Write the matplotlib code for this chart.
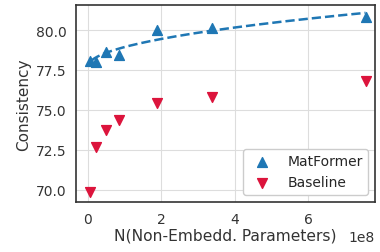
import numpy as np
import matplotlib.pyplot as plt
import seaborn as sns

# parameters (non-embedding)
params_mat = [0.05e8, 0.21e8, 0.48e8, 0.85e8, 1.89e8, 3.37e8, 7.57e8]
cons_mat = [78.04, 78.02, 78.64, 78.44, 80.02, 80.14, 80.79]

params_base = [0.05e8, 0.21e8, 0.48e8, 0.85e8, 1.89e8, 3.37e8, 7.57e8]
cons_base = [69.87, 72.69, 73.75, 74.37, 75.44, 75.81, 76.81]

sns.set_style('whitegrid')
plt.rcParams['font.family'] = ['DejaVu Sans']

fig = plt.figure(figsize=(3.8, 2.53), dpi=100)
ax = fig.add_axes([0.2, 0.198, 0.787, 0.778])

ax.scatter(params_mat, cons_mat, marker='^', s=50, color='#1f77b4', label='MatFormer', zorder=3)
ax.scatter(params_base, cons_base, marker='v', s=50, color='#dc143c', label='Baseline', zorder=3)

# trend line through the MatFormer points (fit on sqrt of params)
xm = np.array(params_mat)
coef = np.polyfit(np.sqrt(xm), cons_mat, 1)
xs = np.linspace(0.1e8, xm.max(), 200)
ax.plot(xs, np.polyval(coef, np.sqrt(xs)), '--', color='#1f77b4', linewidth=1.8, zorder=2)

ax.set_xlim(-0.327e8, 7.83e8)
ax.set_ylim(69.25, 81.56)
ax.set_yticks([70.0, 72.5, 75.0, 77.5, 80.0])
ax.set_xticks([0, 2e8, 4e8, 6e8])
ax.tick_params(labelsize=10, colors='#333333')
ax.xaxis.get_offset_text().set_fontsize(10)
ax.xaxis.get_offset_text().set_color('#333333')

ax.set_xlabel('N(Non-Embedd. Parameters)', fontsize=11.2, color='#333333', labelpad=1)
ax.set_ylabel('Consistency', fontsize=11, color='#333333', labelpad=3)

for sp in ax.spines.values():
    sp.set_edgecolor('#333333')
    sp.set_linewidth(1.2)
ax.grid(True, color='#dddddd')

ax.legend(loc='lower right', fontsize=10, frameon=True, edgecolor='#cccccc', framealpha=1.0)

fig.savefig('out.png', dpi=100)
